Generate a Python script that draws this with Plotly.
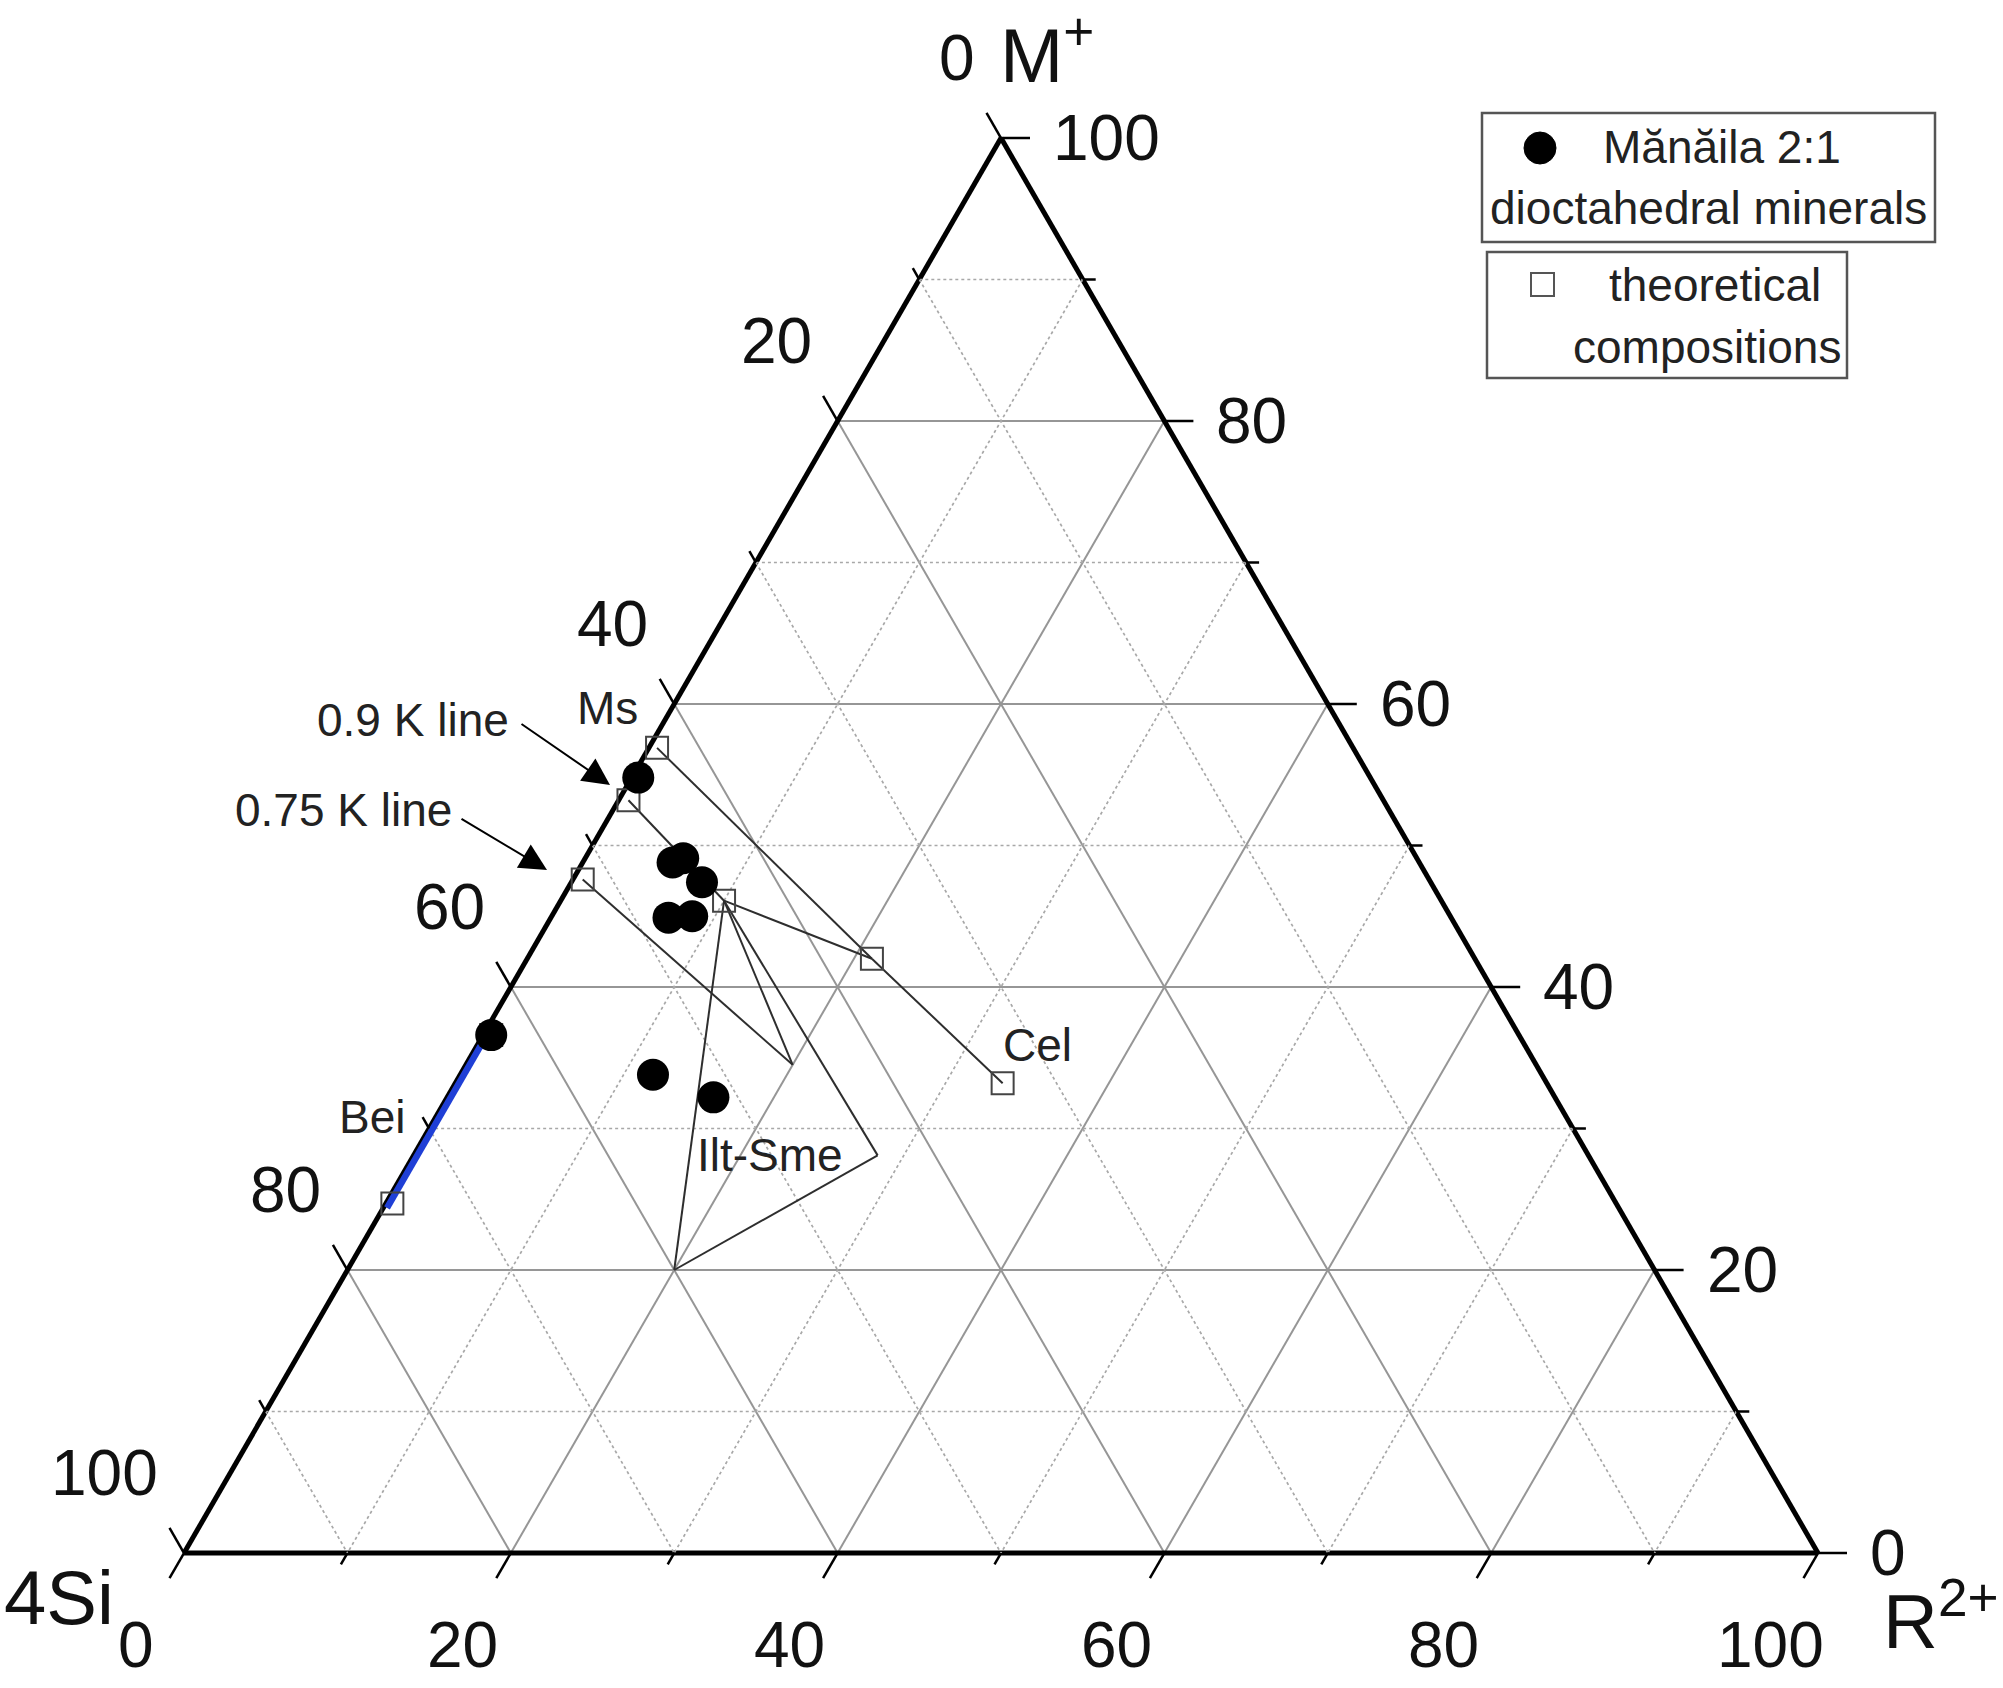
import plotly.graph_objects as go

# ---- data (percent of M+, 4Si, R2+) ----
# Manaila 2:1 dioctahedral minerals (filled dots)
dots_m = [54.8, 48.8, 49.1, 47.4, 44.9, 45.0, 33.8, 32.2, 36.6]
dots_si = [44.8, 45.7, 44.9, 44.6, 47.9, 46.4, 54.4, 51.5, 62.9]
dots_r = [0.4, 5.5, 6.0, 8.0, 7.2, 8.6, 11.8, 16.3, 0.5]

# theoretical compositions (open squares)
theo_names = ["Ms", "K09", "K075", "IltTop", "MsCel", "Cel", "BeiTop", "Bei"]
theo_m = [56.9, 53.2, 47.6, 46.1, 42.0, 33.2, 36.6, 24.7]
theo_si = [42.6, 46.2, 51.8, 43.9, 36.9, 33.3, 62.9, 74.9]
theo_r = [0.5, 0.6, 0.6, 10.0, 21.1, 33.5, 0.5, 0.4]

# corners of the Ilt-Sme field (no marker)
field_names = ["IltMid", "IltRight", "IltBottom"]
field_m = [34.5, 28.1, 20.0]
field_si = [45.5, 43.5, 60.0]
field_r = [20.0, 28.4, 20.0]

# thin connecting lines
segments = [
    ("Ms", "MsCel"), ("MsCel", "Cel"),
    ("K09", "IltTop"), ("K075", "IltMid"),
    ("IltTop", "MsCel"), ("IltTop", "IltMid"), ("IltTop", "IltRight"),
    ("IltTop", "IltBottom"), ("IltBottom", "IltRight"),
]

# beidellite range on the M+ - 4Si edge
bei_m = [36.6, 24.5]
bei_si = [63.4, 75.5]
bei_r = [0.0, 0.0]

tick_vals = [0, 10, 20, 30, 40, 50, 60, 70, 80, 90, 100]
label_vals = [0, 20, 40, 60, 80, 100]
minor_levels = [10, 30, 50, 70, 90]

# ---- geometry of the page (pixels) ----
FW, FH = 2003, 1688
BL = (184, 1553)
BR = (1818, 1553)
TOP = (1001, 138)


def px(x, y):
    return x / FW, 1 - y / FH


nodes = {}
for n, a, b, c in zip(theo_names, theo_m, theo_si, theo_r):
    nodes[n] = (a, b, c)
for n, a, b, c in zip(field_names, field_m, field_si, field_r):
    nodes[n] = (a, b, c)

fig = go.Figure()

# dotted minor grid
grid_style = dict(color="#a8a8a8", width=1.7, dash="dot")
for v in minor_levels:
    for a, b, c in [([v, v], [100 - v, 0], [0, 100 - v]),
                    ([100 - v, 0], [v, v], [0, 100 - v]),
                    ([100 - v, 0], [0, 100 - v], [v, v])]:
        fig.add_trace(go.Scatterternary(a=a, b=b, c=c, mode="lines",
                                        line=grid_style, hoverinfo="skip"))

for p, q in segments:
    fig.add_trace(go.Scatterternary(
        a=[nodes[p][0], nodes[q][0]], b=[nodes[p][1], nodes[q][1]],
        c=[nodes[p][2], nodes[q][2]], mode="lines",
        line=dict(color="#2e2e2e", width=2), hoverinfo="skip"))

# lines are clipped to the triangle, so only the inner half of this shows
fig.add_trace(go.Scatterternary(a=bei_m, b=bei_si, c=bei_r, mode="lines",
                                line=dict(color="#1f3fd6", width=13)))

fig.add_trace(go.Scatterternary(
    a=theo_m, b=theo_si, c=theo_r, mode="markers", name="theoretical compositions",
    cliponaxis=False,
    marker=dict(symbol="square-open", size=22, color="#444444", line=dict(width=2))))

fig.add_trace(go.Scatterternary(
    a=dots_m, b=dots_si, c=dots_r, mode="markers",
    name="Mănăila 2:1 dioctahedral minerals", cliponaxis=False,
    marker=dict(symbol="circle", size=32, color="black")))

axis_style = dict(min=0, showline=True, linecolor="black", linewidth=5,
                  showgrid=True, title=dict(text=""),
                  gridcolor="#969696", gridwidth=2.4, tickmode="linear", tick0=0,
                  dtick=20, ticks="", showticklabels=False, layer="below traces")

x0, y1 = px(*BL)
x1, _ = px(*BR)
_, y0 = px(*TOP)

fig.update_layout(
    width=FW, height=FH, showlegend=False,
    margin=dict(l=0, r=0, t=0, b=0),
    paper_bgcolor="white",
    font=dict(family="Liberation Sans, Arial, sans-serif", color="#111111"),
    ternary=dict(sum=100, bgcolor="white",
                 domain=dict(x=[x0, x1], y=[y1, y0]),
                 aaxis=axis_style, baxis=axis_style, caxis=axis_style),
)

# ---- ticks and tick labels drawn like the original ----
shapes = []
annots = []
S3 = 3 ** 0.5 / 2
for v in tick_vals:
    L = 29 if v % 20 == 0 else 13
    # right edge: M+
    ex = BR[0] + (TOP[0] - BR[0]) * v / 100
    ey = BR[1] + (TOP[1] - BR[1]) * v / 100
    shapes.append((ex, ey, ex + L, ey))
    if v in label_vals:
        annots.append((ex + 50, ey, str(v), "left"))
    # left edge: 4Si
    ex = TOP[0] + (BL[0] - TOP[0]) * v / 100
    ey = TOP[1] + (BL[1] - TOP[1]) * v / 100
    shapes.append((ex, ey, ex - 0.5 * L, ey - S3 * L))
    if v in label_vals:
        annots.append((ex - 24, ey - 80, str(v), "right"))
    # bottom edge: R2+
    ex = BL[0] + (BR[0] - BL[0]) * v / 100
    ey = BL[1]
    shapes.append((ex, ey, ex - 0.5 * L, ey + S3 * L))
    if v in label_vals:
        annots.append((ex - 48, ey + 92, str(v), "center"))

for xa, ya, xb, yb in shapes:
    pa, pb = px(xa, ya), px(xb, yb)
    fig.add_shape(type="line", xref="paper", yref="paper",
                  x0=pa[0], y0=pa[1], x1=pb[0], y1=pb[1],
                  line=dict(color="black", width=2.5))

for x, y, t, xa in annots:
    p = px(x, y)
    fig.add_annotation(x=p[0], y=p[1], xref="paper", yref="paper", text=t,
                       showarrow=False, xanchor=xa, yanchor="middle",
                       font=dict(size=64))

# axis titles
for x, y, t, xa in [(998, 50, "M<sup>+</sup>", "left"), (59, 1597, "4Si", "center"),
                    (1881, 1616, "R<sup>2+</sup>", "left")]:
    p = px(x, y)
    fig.add_annotation(x=p[0], y=p[1], xref="paper", yref="paper", text=t,
                       showarrow=False, xanchor=xa, yanchor="middle", font=dict(size=76))

# labels in the diagram
for x, y, t in [(607, 708, "Ms"), (413, 720, "0.9 K line"), (343, 810, "0.75 K line"),
                (1037, 1045, "Cel"), (770, 1155, "Ilt-Sme"), (372, 1117, "Bei")]:
    p = px(x, y)
    fig.add_annotation(x=p[0], y=p[1], xref="paper", yref="paper", text=t,
                       showarrow=False, xanchor="center", yanchor="middle",
                       font=dict(size=46, color="#222222"))

# arrows of the K lines
for tip, tail in [((610, 785), (520, 723)), ((547, 870), (460, 818))]:
    p = px(*tip)
    fig.add_annotation(x=p[0], y=p[1], xref="paper", yref="paper", text="",
                       showarrow=True, ax=tail[0] - tip[0], ay=tail[1] - tip[1],
                       arrowhead=2, arrowsize=2.7, arrowwidth=2, arrowcolor="black",
                       standoff=0, startstandoff=0)

# legend boxes
for xa, ya, xb, yb in [(1482, 113, 1935, 242), (1487, 252, 1847, 378)]:
    pa, pb = px(xa, ya), px(xb, yb)
    fig.add_shape(type="rect", xref="paper", yref="paper", x0=pa[0], y0=pb[1],
                  x1=pb[0], y1=pa[1], line=dict(color="#555555", width=2.5))
pa, pb = px(1524, 132), px(1556, 164)
fig.add_shape(type="circle", xref="paper", yref="paper", x0=pa[0], y0=pb[1],
              x1=pb[0], y1=pa[1], fillcolor="black", line=dict(color="black", width=1))
pa, pb = px(1531, 273), px(1554, 296)
fig.add_shape(type="rect", xref="paper", yref="paper", x0=pa[0], y0=pb[1],
              x1=pb[0], y1=pa[1], line=dict(color="#555555", width=2))
for x, y, t in [(1722, 147, "Mănăila 2:1"), (1708, 208, "dioctahedral minerals"),
                (1715, 285, "theoretical"), (1707, 347, "compositions")]:
    p = px(x, y)
    fig.add_annotation(x=p[0], y=p[1], xref="paper", yref="paper", text=t,
                       showarrow=False, xanchor="center", yanchor="middle",
                       font=dict(size=46, color="#222222"))

# drop the page margin so the figure fills the window exactly
fig.write_html("out.html", config={"displayModeBar": False},
               post_script="document.body.style.margin='0';"
                           "document.body.style.overflow='hidden';")
